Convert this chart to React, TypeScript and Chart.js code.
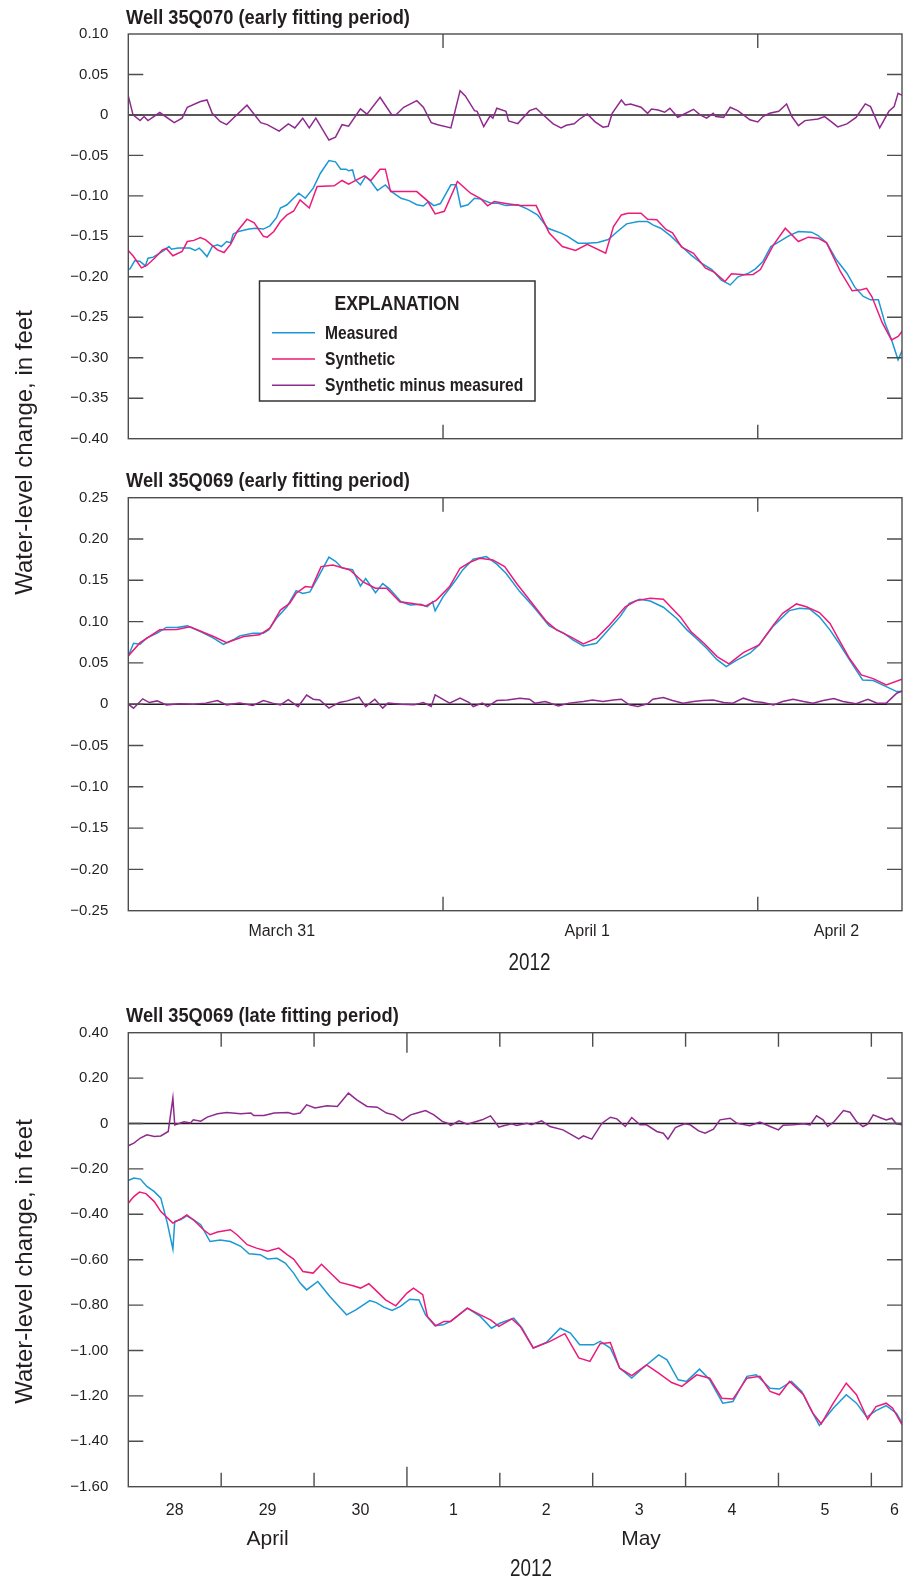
import React, { useEffect, useRef } from "react";
import { Chart, registerables } from "chart.js";

Chart.register(...registerables);

const SANS = '"Liberation Sans", Arial, sans-serif';

const BLUE = "#1b98d5";
const PINK = "#ec1a7a";
const PURPLE = "#8e2a8e";
const AXIS = "#4d4d4d";
const INK = "#231f20";

const SERIES_LABELS = ["Measured", "Synthetic", "Synthetic minus measured"];
const Y_TITLE = "Water-level change, in feet";
const YEAR = "2012";

// ---------- Panel 1: Well 35Q070 (early fitting period), x = hours after March 31 00:00
const P1_MEAS_H = [0, 0.14, 0.5, 0.9, 1.3, 1.5, 1.9, 2.7, 3.1, 3.3, 3.8, 4.7, 5.1, 5.4, 5.6, 6.0, 6.4, 6.8, 7.1, 7.5, 7.8, 8.0, 8.4, 9.2, 9.7, 10.3, 10.8, 11.3, 11.6, 12.1, 12.6, 13.0, 13.5, 14.1, 14.65, 15.3, 15.8, 16.2, 16.6, 16.8, 17.1, 17.3, 17.7, 18.1, 18.5, 19.0, 19.6, 20.1, 20.8, 21.4, 22.0, 22.5, 22.9, 23.3, 23.8, 24.6, 25.0, 25.35, 25.9, 26.4, 26.9, 27.65, 28.2, 28.8, 29.7, 30.45, 31.2, 32.0, 32.5, 33.0, 33.5, 34.3, 35.0, 35.8, 36.6, 37.3, 38.0, 38.9, 39.6, 40.0, 40.6, 41.4, 42.2, 42.9, 43.7, 44.5, 45.2, 45.9, 46.5, 47.3, 47.8, 48.4, 49.0, 49.8, 50.4, 51.1, 52.1, 52.6, 53.25, 54.0, 54.8, 55.4, 56.05, 56.6, 57.2, 57.7, 58.2, 58.7, 59.2];
const P1_MEAS = [-0.191, -0.19, -0.18, -0.181, -0.1865, -0.177, -0.1757, -0.1675, -0.1626, -0.166, -0.1645, -0.1645, -0.1675, -0.1645, -0.1675, -0.175, -0.1626, -0.1605, -0.1626, -0.1564, -0.158, -0.147, -0.144, -0.141, -0.14, -0.141, -0.137, -0.127, -0.115, -0.111, -0.103, -0.0967, -0.103, -0.0905, -0.072, -0.0564, -0.058, -0.067, -0.067, -0.069, -0.068, -0.08, -0.0864, -0.076, -0.0823, -0.0934, -0.0864, -0.095, -0.103, -0.1058, -0.111, -0.1125, -0.107, -0.112, -0.1095, -0.0864, -0.0864, -0.1134, -0.111, -0.103, -0.104, -0.109, -0.109, -0.112, -0.111, -0.1164, -0.1235, -0.14, -0.143, -0.146, -0.15, -0.1584, -0.1584, -0.1575, -0.154, -0.144, -0.1346, -0.1317, -0.1317, -0.1358, -0.14, -0.15, -0.1626, -0.1728, -0.183, -0.191, -0.2037, -0.21, -0.2, -0.1955, -0.1905, -0.181, -0.1626, -0.155, -0.149, -0.144, -0.1448, -0.149, -0.158, -0.179, -0.1955, -0.2128, -0.2243, -0.2284, -0.2284, -0.2572, -0.2778, -0.3025, -0.284];
const P1_SYN_H = [0, 0.4, 1.0, 1.4, 2.0, 2.6, 2.9, 3.4, 4.1, 4.5, 5.0, 5.5, 5.9, 6.8, 7.3, 7.8, 8.3, 9.05, 9.6, 10.3, 10.6, 11.1, 11.6, 12.1, 12.6, 13.1, 13.8, 14.4, 15.7, 16.3, 16.8, 18.0, 18.5, 19.2, 19.6, 20.0, 21.0, 22.0, 22.8, 23.4, 24.1, 25.1, 26.1, 26.9, 27.4, 27.9, 28.9, 29.9, 31.1, 32.1, 33.1, 34.1, 35.0, 36.4, 37.0, 37.6, 38.1, 39.1, 39.6, 40.3, 41.0, 41.5, 42.2, 43.1, 44.0, 44.7, 45.5, 46.0, 47.0, 47.65, 48.2, 49.2, 50.1, 51.1, 51.85, 52.6, 53.25, 54.3, 55.2, 55.9, 56.3, 56.7, 57.5, 58.2, 58.7, 59.2];
const P1_SYN = [-0.1675, -0.175, -0.189, -0.186, -0.177, -0.1667, -0.165, -0.174, -0.1687, -0.1564, -0.155, -0.1515, -0.1544, -0.1667, -0.17, -0.16, -0.144, -0.1288, -0.1333, -0.15, -0.151, -0.144, -0.1317, -0.1235, -0.119, -0.105, -0.115, -0.0885, -0.0876, -0.081, -0.0856, -0.0753, -0.081, -0.067, -0.067, -0.0947, -0.0947, -0.0947, -0.1058, -0.1222, -0.119, -0.0823, -0.0967, -0.1037, -0.1123, -0.107, -0.1096, -0.112, -0.112, -0.146, -0.1626, -0.1675, -0.1598, -0.1708, -0.138, -0.1235, -0.1214, -0.1214, -0.1288, -0.1296, -0.1415, -0.1456, -0.1634, -0.171, -0.189, -0.1946, -0.2058, -0.1963, -0.1975, -0.197, -0.191, -0.1605, -0.14, -0.1564, -0.151, -0.1523, -0.158, -0.1934, -0.2173, -0.216, -0.2143, -0.2243, -0.257, -0.278, -0.2737, -0.2634];
const P1_DIFF_H = [0, 0.36, 0.9, 1.2, 1.5, 2.4, 3.5, 4.1, 4.5, 5.5, 6.0, 6.4, 7.0, 7.5, 8.0, 9.05, 10.1, 10.6, 11.5, 12.2, 12.7, 13.3, 13.8, 14.3, 15.3, 15.8, 16.3, 16.8, 17.7, 18.2, 19.2, 20.1, 20.4, 21.0, 22.0, 22.5, 23.1, 23.6, 24.6, 25.3, 25.7, 26.4, 26.6, 27.1, 27.6, 27.8, 28.1, 28.8, 29.0, 29.7, 30.6, 31.1, 31.5, 32.4, 33.0, 33.4, 34.0, 34.4, 35.0, 35.6, 36.2, 36.6, 36.9, 37.6, 37.9, 38.3, 39.1, 39.6, 39.9, 40.4, 40.9, 41.3, 41.9, 42.4, 43.1, 43.6, 44.1, 44.6, 44.8, 45.4, 45.9, 46.5, 47.4, 48.0, 48.4, 48.9, 49.6, 50.2, 50.6, 51.1, 51.6, 52.6, 53.1, 53.6, 54.1, 54.8, 55.5, 56.2, 56.6, 57.3, 58.0, 58.4, 58.7, 59.1];
const P1_DIFF = [0.0235, 0, -0.007, -0.002, -0.007, 0.003, -0.0095, -0.004, 0.0095, 0.0165, 0.0185, 0.002, -0.008, -0.012, -0.004, 0.012, -0.0095, -0.012, -0.02, -0.011, -0.016, -0.004, -0.016, -0.004, -0.031, -0.0275, -0.012, -0.014, 0.0074, 0.001, 0.0218, 0, 0, 0.0095, 0.0177, 0.0095, -0.0095, -0.012, -0.016, 0.03, 0.0235, 0.0053, 0.0045, -0.0144, -0.001, -0.004, 0.0082, 0.0045, -0.0074, -0.0107, 0.0053, 0.0082, 0.002, -0.011, -0.016, -0.0128, -0.011, -0.0053, 0.0012, -0.0086, -0.0152, -0.014, 0.002, 0.0185, 0.0124, 0.0136, 0.0095, 0.002, 0.0074, 0.0062, 0.0033, 0.0082, -0.0029, 0.0012, 0.007, 0, -0.004, 0.002, -0.002, -0.003, 0.0095, 0.005, -0.006, -0.0086, -0.002, 0.002, 0.0045, 0.0136, -0.002, -0.0132, -0.007, -0.005, -0.002, -0.0082, -0.0148, -0.011, -0.003, 0.0136, 0.0103, -0.016, 0.0045, 0.0103, 0.0268, 0.0235];

// ---------- Panel 2: Well 35Q069 (early fitting period), x = hours after March 31 00:00
const P2_MEAS_H = [0, 0.4, 0.9, 1.4, 2.2, 2.9, 3.7, 4.5, 5.5, 6.5, 7.25, 8.0, 8.5, 9.5, 10.3, 10.7, 11.3, 12.1, 12.8, 13.3, 13.85, 14.5, 15.3, 15.8, 16.3, 17.1, 17.7, 18.1, 18.85, 19.4, 19.9, 20.8, 21.5, 22.3, 22.8, 23.2, 23.4, 24.0, 24.5, 25.0, 25.5, 26.3, 27.3, 28.1, 28.8, 29.85, 30.9, 32.1, 33.2, 33.9, 34.7, 35.7, 36.5, 37.5, 38.2, 39.0, 39.8, 40.8, 41.8, 42.6, 43.3, 44.1, 44.85, 45.6, 46.4, 47.4, 48.1, 49.2, 50.4, 51.2, 51.95, 52.7, 53.5, 54.2, 55.0, 56.0, 56.8, 57.8, 58.6, 59.0];
const P2_MEAS = [0.0585, 0.0738, 0.0725, 0.08, 0.086, 0.093, 0.093, 0.0948, 0.088, 0.08, 0.0725, 0.078, 0.0827, 0.086, 0.086, 0.09, 0.104, 0.118, 0.1375, 0.134, 0.136, 0.1545, 0.178, 0.173, 0.165, 0.163, 0.1432, 0.152, 0.135, 0.146, 0.14, 0.124, 0.12, 0.121, 0.118, 0.124, 0.113, 0.13, 0.1404, 0.151, 0.1626, 0.1755, 0.1787, 0.1695, 0.1586, 0.1363, 0.118, 0.0948, 0.086, 0.0778, 0.0706, 0.0738, 0.088, 0.106, 0.1222, 0.127, 0.125, 0.1174, 0.104, 0.09, 0.08, 0.0677, 0.0545, 0.0455, 0.0533, 0.0617, 0.0718, 0.0948, 0.1133, 0.1162, 0.1154, 0.1057, 0.09, 0.0738, 0.0536, 0.0294, 0.0286, 0.0213, 0.0153, 0.0153];
const P2_SYN_H = [0, 0.9, 2.4, 3.7, 4.7, 6.5, 7.5, 8.8, 10.0, 10.8, 11.6, 12.3, 12.8, 13.5, 14.0, 14.7, 15.6, 16.9, 17.9, 18.85, 19.7, 20.7, 21.7, 22.7, 23.5, 24.5, 25.3, 26.0, 26.8, 27.8, 28.7, 29.6, 30.9, 31.9, 32.65, 33.7, 34.7, 35.7, 36.7, 37.9, 38.75, 39.8, 40.8, 42.1, 42.9, 43.9, 44.9, 45.8, 46.9, 48.1, 49.2, 49.9, 50.95, 51.7, 52.7, 53.5, 54.2, 55.0, 55.9, 56.8, 57.8, 59.0];
const P2_SYN = [0.0585, 0.0745, 0.09, 0.0905, 0.0936, 0.082, 0.0745, 0.082, 0.084, 0.092, 0.114, 0.122, 0.1343, 0.1424, 0.1416, 0.1666, 0.1686, 0.1625, 0.148, 0.1404, 0.1404, 0.124, 0.122, 0.119, 0.126, 0.1424, 0.1646, 0.1714, 0.1767, 0.1747, 0.1666, 0.1465, 0.12, 0.1, 0.09, 0.0818, 0.073, 0.08, 0.096, 0.118, 0.1254, 0.1283, 0.127, 0.1057, 0.088, 0.0738, 0.0577, 0.0488, 0.0625, 0.0718, 0.096, 0.11, 0.1214, 0.118, 0.111, 0.098, 0.0778, 0.0553, 0.0355, 0.031, 0.0234, 0.0303];
const P2_DIFF_H = [0, 0.4, 1.1, 1.6, 2.2, 2.9, 3.9, 4.95, 5.9, 6.8, 7.5, 8.5, 9.5, 10.3, 11.0, 11.6, 12.2, 12.95, 13.6, 14.1, 14.6, 15.3, 15.6, 16.1, 16.7, 17.6, 18.1, 18.8, 19.4, 19.8, 20.8, 21.8, 22.5, 23.1, 23.4, 24.0, 24.5, 25.3, 26.0, 26.3, 27.0, 27.4, 28.1, 28.9, 29.85, 30.6, 31.0, 31.8, 32.8, 33.6, 34.7, 35.4, 36.2, 37.0, 37.6, 38.2, 38.85, 39.6, 40.0, 40.8, 41.5, 42.3, 43.1, 43.8, 44.6, 45.4, 46.1, 46.9, 47.7, 48.4, 49.2, 49.9, 50.7, 51.5, 52.2, 53.0, 53.8, 54.5, 55.5, 56.4, 57.1, 57.8, 58.6, 59.0];
const P2_DIFF = [0, -0.0048, 0.0065, 0.002, 0.004, -0.001, 0.0005, 0, 0.0013, 0.0045, -0.0008, 0.0013, -0.0016, 0.0045, 0.0013, -0.0008, 0.0055, -0.003, 0.011, 0.006, 0.0052, -0.0048, -0.002, 0.002, 0.004, 0.0085, -0.003, 0.006, -0.0048, 0.0013, 0, -0.0008, 0.002, -0.0028, 0.0113, 0.0059, 0.0013, 0.0073, 0.002, -0.0028, 0.0013, -0.0028, 0.0044, 0.0052, 0.0073, 0.006, 0.0013, 0.0032, -0.002, 0.0013, 0.0032, 0.0052, 0.0032, 0.0052, 0.006, -0.0008, -0.0028, 0.0005, 0.006, 0.0081, 0.0044, 0.0013, 0.0032, 0.0044, 0.0052, 0.002, 0.0013, 0.0073, 0.0032, 0.002, -0.0008, 0.0032, 0.006, 0.0032, 0.0013, 0.0044, 0.0069, 0.0032, 0.0005, 0.006, 0.0013, 0.0013, 0.0133, 0.016];

// ---------- Panel 3: Well 35Q069 (late fitting period), x = days after April 28 00:00
const P3_MEAS_D = [0, 0.06, 0.13, 0.2, 0.28, 0.35, 0.42, 0.48, 0.5, 0.56, 0.63, 0.7, 0.78, 0.88, 0.99, 1.1, 1.21, 1.3, 1.42, 1.5, 1.6, 1.69, 1.78, 1.85, 1.92, 2.04, 2.17, 2.35, 2.45, 2.6, 2.67, 2.75, 2.84, 2.93, 3.03, 3.13, 3.2, 3.3, 3.39, 3.47, 3.65, 3.79, 3.91, 4.0, 4.15, 4.24, 4.36, 4.5, 4.65, 4.76, 4.86, 5.01, 5.08, 5.19, 5.29, 5.42, 5.54, 5.71, 5.8, 5.92, 6.01, 6.15, 6.26, 6.4, 6.51, 6.66, 6.76, 6.91, 7.01, 7.14, 7.25, 7.34, 7.44, 7.59, 7.73, 7.84, 7.95, 8.05, 8.16, 8.27, 8.33];
const P3_MEAS = [-0.251, -0.24, -0.245, -0.2775, -0.3, -0.3287, -0.439, -0.553, -0.431, -0.424, -0.4066, -0.424, -0.446, -0.52, -0.513, -0.52, -0.541, -0.574, -0.578, -0.597, -0.594, -0.615, -0.659, -0.703, -0.733, -0.696, -0.762, -0.843, -0.821, -0.78, -0.789, -0.809, -0.824, -0.806, -0.774, -0.777, -0.843, -0.891, -0.887, -0.872, -0.813, -0.85, -0.902, -0.88, -0.857, -0.902, -0.989, -0.965, -0.902, -0.923, -0.975, -0.975, -0.96, -0.989, -1.077, -1.121, -1.077, -1.019, -1.041, -1.129, -1.136, -1.082, -1.129, -1.232, -1.225, -1.114, -1.107, -1.166, -1.17, -1.136, -1.18, -1.254, -1.33, -1.254, -1.195, -1.232, -1.293, -1.265, -1.243, -1.276, -1.32];
const P3_SYN_D = [0, 0.06, 0.12, 0.19, 0.28, 0.35, 0.48, 0.58, 0.63, 0.7, 0.81, 0.88, 0.96, 1.1, 1.17, 1.28, 1.38, 1.5, 1.62, 1.71, 1.78, 1.88, 1.99, 2.08, 2.21, 2.28, 2.42, 2.5, 2.59, 2.66, 2.77, 2.88, 3.0, 3.07, 3.17, 3.22, 3.31, 3.4, 3.47, 3.65, 3.79, 3.9, 3.99, 4.13, 4.22, 4.36, 4.54, 4.7, 4.85, 4.97, 5.08, 5.19, 5.29, 5.42, 5.58, 5.71, 5.85, 5.96, 6.12, 6.26, 6.39, 6.51, 6.66, 6.8, 6.91, 7.01, 7.12, 7.27, 7.37, 7.46, 7.59, 7.73, 7.84, 7.96, 8.05, 8.16, 8.23, 8.33];
const P3_SYN = [-0.351, -0.322, -0.302, -0.309, -0.344, -0.388, -0.439, -0.417, -0.403, -0.424, -0.468, -0.49, -0.478, -0.468, -0.49, -0.534, -0.549, -0.563, -0.549, -0.578, -0.597, -0.652, -0.659, -0.62, -0.672, -0.7, -0.715, -0.725, -0.706, -0.733, -0.777, -0.803, -0.747, -0.725, -0.754, -0.85, -0.891, -0.872, -0.872, -0.813, -0.843, -0.865, -0.894, -0.861, -0.894, -0.989, -0.96, -0.926, -1.033, -1.048, -0.97, -0.965, -1.078, -1.111, -1.063, -1.1, -1.141, -1.158, -1.107, -1.122, -1.21, -1.214, -1.122, -1.114, -1.18, -1.195, -1.136, -1.195, -1.276, -1.323, -1.232, -1.144, -1.195, -1.303, -1.247, -1.232, -1.254, -1.327];
const P3_DIFF_D = [0, 0.06, 0.13, 0.2, 0.28, 0.35, 0.43, 0.48, 0.5, 0.6, 0.67, 0.7, 0.78, 0.85, 0.96, 1.06, 1.21, 1.32, 1.35, 1.46, 1.57, 1.72, 1.78, 1.85, 1.92, 2.01, 2.14, 2.25, 2.37, 2.46, 2.57, 2.68, 2.78, 2.86, 2.95, 3.04, 3.11, 3.2, 3.29, 3.38, 3.45, 3.47, 3.56, 3.65, 3.72, 3.81, 3.9, 3.99, 4.04, 4.13, 4.18, 4.29, 4.34, 4.45, 4.54, 4.68, 4.85, 4.9, 4.99, 5.1, 5.19, 5.26, 5.35, 5.42, 5.51, 5.58, 5.69, 5.76, 5.81, 5.89, 5.99, 6.05, 6.14, 6.21, 6.3, 6.37, 6.48, 6.55, 6.69, 6.8, 6.91, 7.0, 7.05, 7.16, 7.27, 7.34, 7.41, 7.48, 7.53, 7.6, 7.7, 7.77, 7.84, 7.91, 7.96, 8.02, 8.09, 8.16, 8.22, 8.27, 8.33];
const P3_DIFF = [-0.098, -0.0864, -0.064, -0.05, -0.057, -0.055, -0.035, 0.112, -0.006, 0.008, 0.002, 0.016, 0.01, 0.028, 0.043, 0.048, 0.043, 0.046, 0.035, 0.035, 0.046, 0.048, 0.041, 0.046, 0.082, 0.068, 0.078, 0.075, 0.134, 0.104, 0.075, 0.072, 0.046, 0.038, 0.013, 0.038, 0.046, 0.057, 0.038, 0.009, -0.001, -0.0087, 0.0117, -0.003, 0.0059, 0.0161, 0.0337, -0.0161, -0.0102, -0.0014, -0.0087, 0.0015, -0.0058, 0.0117, -0.0132, -0.0279, -0.0675, -0.0543, -0.069, 0.0015, 0.0278, 0.0205, -0.0132, 0.0264, -0.0058, -0.0058, -0.0352, -0.0426, -0.069, -0.0176, -0.0014, -0.0058, -0.0323, -0.0426, -0.025, 0.0161, 0.0234, 0.0015, -0.0102, 0.0059, -0.0132, -0.0279, -0.0073, -0.0058, -0.0014, -0.0058, 0.0337, 0.0161, -0.0132, 0.0088, 0.057, 0.0497, 0.0088, -0.0132, -0.003, 0.038, 0.0264, 0.0161, 0.0234, -0.0014, -0.0058];

// ---------- Axis ticks / labels
const EARLY_X_MAX = 59.0;
const EARLY_DAY_TICKS = [24, 48];
const EARLY_LABEL_AT = [11.7, 35, 54];
const EARLY_LABELS = ["March 31", "April 1", "April 2"];

const LATE_X_MAX = 8.33;
const LATE_DAY_TICKS = [1, 2, 3, 4, 5, 6, 7, 8];
const LATE_MONTH_TICKS = [3];
const LATE_LABEL_AT = [0.5, 1.5, 2.5, 3.5, 4.5, 5.5, 6.5, 7.5, 8.25];
const LATE_LABELS = ["28", "29", "30", "1", "2", "3", "4", "5", "6"];
const MONTH_LABELS = ["April", "May"];
const MONTH_AT = [1.5, 5.52];

const fmtY = (value: number) => {
  const v = Math.round(value * 100) / 100;
  if (v === 0) return "0";
  return (v < 0 ? "\u2212" : "") + Math.abs(v).toFixed(2);
};

const pts = (xs: number[], ys: number[]) => xs.map((x, i) => ({ x, y: ys[i] }));

// condensed text (no condensed face installed): squeeze glyphs horizontally
function condText(
  ctx: CanvasRenderingContext2D,
  text: string,
  x: number,
  y: number,
  font: string,
  sx: number,
  align: CanvasTextAlign,
  baseline: CanvasTextBaseline = "alphabetic"
) {
  ctx.save();
  ctx.translate(x, y);
  ctx.scale(sx, 1);
  ctx.font = font;
  ctx.fillStyle = INK;
  ctx.textAlign = align;
  ctx.textBaseline = baseline;
  ctx.fillText(text, 0, 0);
  ctx.restore();
}

type PanelDef = {
  title: string;
  titleBaseline: number;
  top: number;
  bottom: number;
  xAxisH: number;
  xMax: number;
  yMin: number;
  yMax: number;
  yStep: number;
  meas: { x: number; y: number }[];
  syn: { x: number; y: number }[];
  diff: { x: number; y: number }[];
  dayTicks: number[];
  longTicks: number[];
  labelAt: number[];
  labels: string[];
  labelPad: number;
  extra: (chart: any) => void;
};

function drawYTitle(ctx: CanvasRenderingContext2D, cy: number) {
  ctx.save();
  ctx.translate(31.5, cy);
  ctx.rotate(-Math.PI / 2);
  ctx.font = `24px ${SANS}`;
  ctx.fillStyle = INK;
  ctx.textAlign = "center";
  ctx.textBaseline = "alphabetic";
  ctx.fillText(Y_TITLE, 0, 0);
  ctx.restore();
}

function makeChart(canvas: HTMLCanvasElement, p: PanelDef) {
  const H = 1585;
  const showX = p.labels.length > 0;
  const plugin = {
    id: "panelDecor",
    beforeDatasetsDraw(chart: any) {
      const { ctx, chartArea: a, scales } = chart;
      const y0 = scales.y.getPixelForValue(0);
      ctx.save();
      ctx.strokeStyle = INK;
      ctx.lineWidth = 1.5;
      ctx.beginPath();
      ctx.moveTo(a.left, y0);
      ctx.lineTo(a.right, y0);
      ctx.stroke();
      ctx.restore();
    },
    afterDraw(chart: any) {
      const { ctx, chartArea: a, scales } = chart;
      const xs = scales.x;
      const ys = scales.y;
      ctx.save();
      ctx.strokeStyle = AXIS;
      ctx.lineWidth = 1.4;
      ctx.strokeRect(a.left, a.top, a.right - a.left, a.bottom - a.top);
      ctx.beginPath();
      for (const d of p.dayTicks) {
        const x = xs.getPixelForValue(d);
        const len = p.longTicks.includes(d) ? 20 : 14;
        ctx.moveTo(x, a.top);
        ctx.lineTo(x, a.top + len);
        ctx.moveTo(x, a.bottom);
        ctx.lineTo(x, a.bottom - len);
      }
      const nY = Math.round((p.yMax - p.yMin) / p.yStep);
      for (let i = 1; i < nY; i++) {
        const v = p.yMin + i * p.yStep;
        const y = ys.getPixelForValue(v);
        ctx.moveTo(a.left, y);
        ctx.lineTo(a.left + 15, y);
        ctx.moveTo(a.right, y);
        ctx.lineTo(a.right - 15, y);
      }
      ctx.stroke();
      ctx.restore();
      condText(ctx, p.title, 126, p.titleBaseline, `bold 21px ${SANS}`, 0.87, "left");
      p.extra(chart);
    },
  };

  return new Chart(canvas, {
    type: "line",
    data: {
      datasets: [
        { label: SERIES_LABELS[0], data: p.meas, borderColor: BLUE, borderWidth: 1.5, pointRadius: 0, tension: 0, order: 2 },
        { label: SERIES_LABELS[1], data: p.syn, borderColor: PINK, borderWidth: 1.5, pointRadius: 0, tension: 0, order: 1 },
        { label: SERIES_LABELS[2], data: p.diff, borderColor: PURPLE, borderWidth: 1.5, pointRadius: 0, tension: 0, order: 0 },
      ],
    },
    options: {
      responsive: false,
      animation: false,
      events: [],
      layout: { padding: { top: p.top, bottom: H - p.bottom - p.xAxisH, left: 0, right: 1 } },
      plugins: { legend: { display: false }, tooltip: { enabled: false }, title: { display: false } },
      scales: {
        x: {
          type: "linear",
          min: 0,
          max: p.xMax,
          grid: { display: false, drawTicks: false },
          border: { display: false },
          afterBuildTicks: (s: any) => {
            s.ticks = p.labelAt.map((v) => ({ value: v }));
          },
          afterFit: (s: any) => {
            s.height = p.xAxisH;
            s.paddingLeft = 0;
            s.paddingRight = 0;
          },
          ticks: {
            display: showX,
            autoSkip: false,
            maxRotation: 0,
            minRotation: 0,
            padding: p.labelPad,
            color: INK,
            font: { family: SANS, size: 16 },
            callback: (_v: any, i: number) => p.labels[i],
          },
        },
        y: {
          type: "linear",
          min: p.yMin,
          max: p.yMax,
          grid: { display: false, drawTicks: false },
          border: { display: false },
          afterFit: (s: any) => {
            s.width = 128.3;
            s.paddingTop = 0;
            s.paddingBottom = 0;
          },
          ticks: {
            stepSize: p.yStep,
            padding: 20,
            color: INK,
            font: { family: SANS, size: 15 },
            callback: (v: any) => fmtY(Number(v)),
          },
        },
      },
    } as any,
    plugins: [plugin as any],
  });
}

export default function App() {
  const r1 = useRef<HTMLCanvasElement>(null);
  const r2 = useRef<HTMLCanvasElement>(null);
  const r3 = useRef<HTMLCanvasElement>(null);

  useEffect(() => {
    const charts: Chart[] = [];
    charts.push(
      makeChart(r1.current!, {
        title: "Well 35Q070 (early fitting period)",
        titleBaseline: 23.5,
        top: 34,
        bottom: 438.7,
        xAxisH: 0,
        xMax: EARLY_X_MAX,
        yMin: -0.4,
        yMax: 0.1,
        yStep: 0.05,
        meas: pts(P1_MEAS_H, P1_MEAS),
        syn: pts(P1_SYN_H, P1_SYN),
        diff: pts(P1_DIFF_H, P1_DIFF),
        dayTicks: EARLY_DAY_TICKS,
        longTicks: [],
        labelAt: [],
        labels: [],
        labelPad: 0,
        extra: (chart: any) => {
          const ctx: CanvasRenderingContext2D = chart.ctx;
          drawYTitle(ctx, 452.5);
          ctx.save();
          ctx.fillStyle = "#ffffff";
          ctx.fillRect(259.5, 281, 275.5, 120);
          ctx.strokeStyle = "#333333";
          ctx.lineWidth = 1.5;
          ctx.strokeRect(259.5, 281, 275.5, 120);
          ctx.restore();
          condText(ctx, "EXPLANATION", 397, 310, `bold 21px ${SANS}`, 0.84, "center");
          const rows = [332.7, 359, 385.3];
          chart.data.datasets.forEach((ds: any, i: number) => {
            ctx.save();
            ctx.strokeStyle = ds.borderColor;
            ctx.lineWidth = 1.5;
            ctx.beginPath();
            ctx.moveTo(272, rows[i]);
            ctx.lineTo(315, rows[i]);
            ctx.stroke();
            ctx.restore();
            condText(ctx, ds.label, 325, rows[i] + 6, `bold 19px ${SANS}`, 0.82, "left");
          });
        },
      })
    );
    charts.push(
      makeChart(r2.current!, {
        title: "Well 35Q069 (early fitting period)",
        titleBaseline: 486.7,
        top: 497.7,
        bottom: 910.7,
        xAxisH: 60,
        xMax: EARLY_X_MAX,
        yMin: -0.25,
        yMax: 0.25,
        yStep: 0.05,
        meas: pts(P2_MEAS_H, P2_MEAS),
        syn: pts(P2_SYN_H, P2_SYN),
        diff: pts(P2_DIFF_H, P2_DIFF),
        dayTicks: EARLY_DAY_TICKS,
        longTicks: [],
        labelAt: EARLY_LABEL_AT,
        labels: EARLY_LABELS,
        labelPad: 11.4,
        extra: (chart: any) => {
          condText(chart.ctx, YEAR, 529.6, 963.3, `23px ${SANS}`, 0.82, "center", "middle");
        },
      })
    );
    charts.push(
      makeChart(r3.current!, {
        title: "Well 35Q069 (late fitting period)",
        titleBaseline: 1021.7,
        top: 1032.7,
        bottom: 1486.7,
        xAxisH: 60,
        xMax: LATE_X_MAX,
        yMin: -1.6,
        yMax: 0.4,
        yStep: 0.2,
        meas: pts(P3_MEAS_D, P3_MEAS),
        syn: pts(P3_SYN_D, P3_SYN),
        diff: pts(P3_DIFF_D, P3_DIFF),
        dayTicks: LATE_DAY_TICKS,
        longTicks: LATE_MONTH_TICKS,
        labelAt: LATE_LABEL_AT,
        labels: LATE_LABELS,
        labelPad: 14.7,
        extra: (chart: any) => {
          const ctx: CanvasRenderingContext2D = chart.ctx;
          const xs = chart.scales.x;
          drawYTitle(ctx, 1261.5);
          ctx.save();
          ctx.fillStyle = INK;
          ctx.textAlign = "center";
          ctx.textBaseline = "middle";
          ctx.font = `21px ${SANS}`;
          MONTH_LABELS.forEach((m, i) => ctx.fillText(m, xs.getPixelForValue(MONTH_AT[i]), 1539));
          ctx.restore();
          condText(ctx, YEAR, 531, 1570, `23px ${SANS}`, 0.82, "center", "middle");
        },
      })
    );
    return () => charts.forEach((c) => c.destroy());
  }, []);

  const cs: React.CSSProperties = { position: "absolute", left: 0, top: 0 };
  return (
    <div style={{ position: "absolute", left: 0, top: 0, width: 903, height: 1585, background: "#fff" }}>
      <canvas ref={r1} width={903} height={1585} style={cs} />
      <canvas ref={r2} width={903} height={1585} style={cs} />
      <canvas ref={r3} width={903} height={1585} style={cs} />
    </div>
  );
}
